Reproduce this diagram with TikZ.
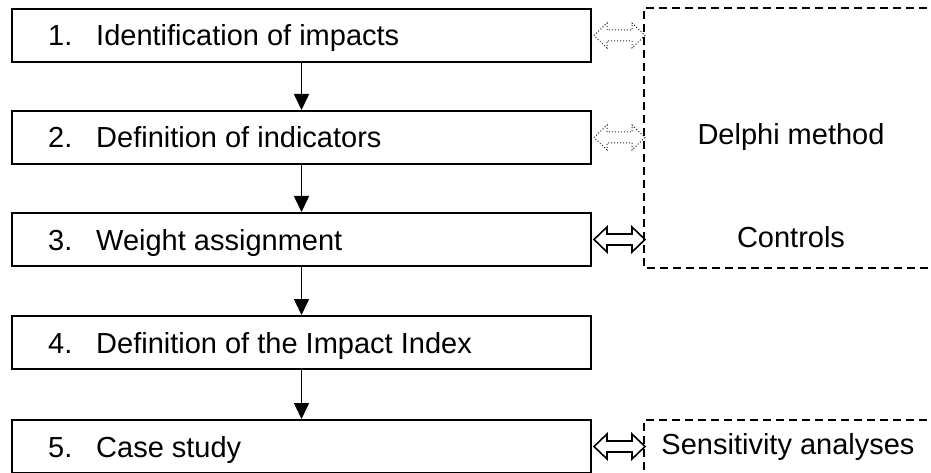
\documentclass[tikz,border=0pt]{standalone}
\usepackage{fontspec}
\setmainfont{Liberation Sans}
\usetikzlibrary{arrows.meta,calc}
\begin{document}
\begin{tikzpicture}[x=1pt,y=-1pt,
  stepbox/.style={draw, line width=2pt, minimum width=579pt, minimum height=53pt, inner sep=0pt, anchor=north west},
  lbl/.style={anchor=base west, inner sep=0pt, font=\fontsize{29}{34}\selectfont},
  flow/.style={line width=1.6pt, -{Triangle[length=16pt,width=15pt]}},
  dashbox/.style={line width=1.4pt, dash pattern=on 8pt off 5pt},
  dblsolid/.style={line width=1.6pt, line join=miter},
  dbldot/.style={line width=1pt, dotted, draw=black!85}]
\useasboundingbox (0,0) rectangle (931,473);
\clip (0,0) rectangle (931,473);
% boxes
\node[stepbox] (b1) at (11,8) {};
\node[stepbox] (b2) at (11,110) {};
\node[stepbox] (b3) at (11,212) {};
\node[stepbox] (b4) at (11,315) {};
\node[stepbox] (b5) at (11,419) {};
% labels
\foreach \b/\n/\t in {b1/1./Identification of impacts, b2/2./Definition of indicators, b3/3./Weight assignment, b4/4./Definition of the Impact Index, b5/5./Case study}{
  \node[lbl] (\b n) at ([xshift=37pt,yshift=-10.5pt]\b.west) {\n};
  \node[lbl] (\b t) at ([xshift=85pt,yshift=-10.5pt]\b.west) {\t};
}
% flow arrows
\draw[flow] (b1.south) -- (b2.north);
\draw[flow] (b2.south) -- (b3.north);
\draw[flow] (b3.south) -- (b4.north);
\draw[flow] (b4.south) -- (b5.north);
% dashed boxes
\draw[dashbox] (940,8) -- (644,8) -- (644,268) -- (940,268);
\draw[dashbox] (940,420) -- (644,420) -- (644,480);
\node[lbl, anchor=center] (delphi) at (791,137) {\vphantom{p}Delphi method};
\node[lbl, anchor=center] (controls) at (791,240) {\vphantom{p}Controls};
\node[lbl, anchor=center] (sens) at (788,447) {Sensitivity analyses};
% double arrows
\newcommand{\dblarr}[2]{%
  \draw[#2] ($(#1.east)+(2,0)$) -- ++(13,-12.5) -- ++(0,7) -- ++(25,0) -- ++(0,-7) -- ++(13,12.5) -- ++(-13,12.5) -- ++(0,-7) -- ++(-25,0) -- ++(0,7) -- cycle;}
\dblarr{b1}{dbldot}
\dblarr{b2}{dbldot}
\dblarr{b3}{dblsolid}
\dblarr{b5}{dblsolid}
\end{tikzpicture}
\end{document}
